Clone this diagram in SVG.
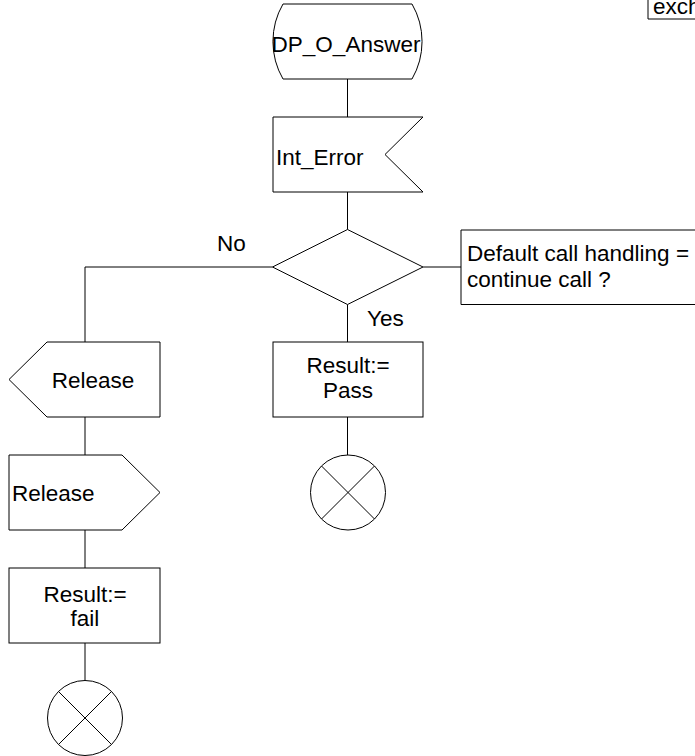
<svg xmlns="http://www.w3.org/2000/svg" width="695" height="756" viewBox="0 0 695 756">
<style>
.s{fill:#fff;stroke:#000;stroke-width:1}
.c{fill:none;stroke:#000;stroke-width:1}
text{font-family:"Liberation Sans",Arial,sans-serif;font-size:22.5px;fill:#000}
.m{text-anchor:middle}
</style>
<rect width="695" height="756" fill="#fff"/>
<g id="connectors">
<path class="c" d="M347.5,79V117M347.5,192V229.5M272.5,267H85V342M85,417V455M85,530V568M85,643V680.5M347.5,304.5V342M347.5,417V455M423,267H461"/>
</g>
<g id="note_top">
<path class="s" d="M648,-2V19H700"/>
<text x="653" y="13.5">exch</text>
</g>
<g id="start">
<path class="s" d="M283,4H412A75,75 0 0 1 412,79H283A75,75 0 0 1 283,4Z"/>
<text class="m" x="346" y="51.5">DP_O_Answer</text>
</g>
<g id="int_error">
<polygon class="s" points="273,117 423,117 385,154.5 423,192 273,192"/>
<text x="276" y="164.5">Int_Error</text>
</g>
<g id="decision">
<polygon class="s" points="347.5,229.5 423,267 347.5,304.5 272.5,267"/>
</g>
<g id="label_no"><text x="217" y="251">No</text></g>
<g id="label_yes"><text x="367" y="325.5">Yes</text></g>
<g id="comment">
<path class="s" d="M700,230H461V304.5H700"/>
<text x="467" y="261">Default call handling =</text>
<text x="467" y="287">continue call ?</text>
</g>
<g id="release_out">
<polygon class="s" points="47,342 160,342 160,417 47,417 9,379.5"/>
<text class="m" x="93" y="388">Release</text>
</g>
<g id="release_in">
<polygon class="s" points="9,455 122,455 160,492.5 122,530 9,530"/>
<text x="12" y="501">Release</text>
</g>
<g id="result_fail">
<rect class="s" x="9" y="568" width="151" height="75"/>
<text class="m" x="85" y="602">Result:=</text>
<text class="m" x="85" y="626">fail</text>
</g>
<g id="stop_fail">
<circle class="s" cx="85" cy="718" r="37.5"/>
<path class="c" d="M58.5,691.5L111.5,744.5M111.5,691.5L58.5,744.5"/>
</g>
<g id="result_pass">
<rect class="s" x="273" y="342" width="150" height="75"/>
<text class="m" x="348" y="373">Result:=</text>
<text class="m" x="348" y="398">Pass</text>
</g>
<g id="stop_pass">
<circle class="s" cx="348" cy="492.5" r="37.5"/>
<path class="c" d="M321.5,466L374.5,519M374.5,466L321.5,519"/>
</g>
</svg>
